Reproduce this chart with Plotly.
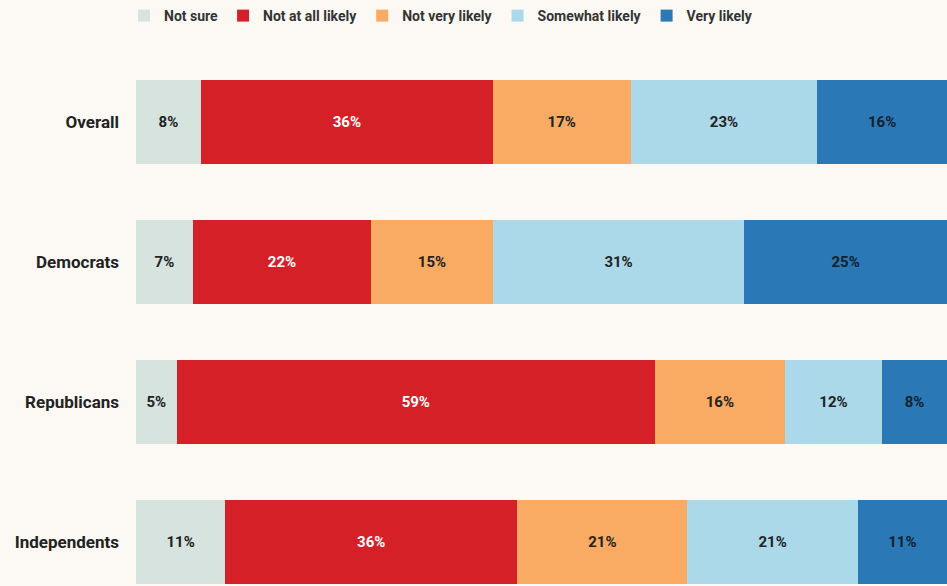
import plotly.graph_objects as go

groups = ["Overall", "Democrats", "Republicans", "Independents"]
series_names = ["Not sure", "Not at all likely", "Not very likely", "Somewhat likely", "Very likely"]
not_sure = [8, 7, 5, 11]
not_at_all = [36, 22, 59, 36]
not_very = [17, 15, 16, 21]
somewhat = [23, 31, 12, 21]
very = [16, 25, 8, 11]

values = [not_sure, not_at_all, not_very, somewhat, very]
colors = ["#d6e3de", "#d62027", "#f9ab63", "#abd9ea", "#2a78b6"]
text_colors = ["#222222", "#ffffff", "#222222", "#222222", "#14202e"]
BG = "#fcf9f4"

fig = go.Figure()
for name, vals, col, tc in zip(series_names, values, colors, text_colors):
    fig.add_trace(go.Bar(
        y=groups, x=vals, name=name, orientation="h",
        marker=dict(color=col, line=dict(width=0)),
        text=[f"{v}%" for v in vals],
        textposition="inside", insidetextanchor="middle",
        textfont=dict(color=tc, size=15, family="Roboto", weight="bold"),
        constraintext="none",
        width=0.6,
    ))

fig.update_layout(
    barmode="stack",
    width=947, height=586,
    margin=dict(l=136, r=0, t=52, b=0),
    paper_bgcolor=BG,
    plot_bgcolor=BG,
    font=dict(family="Roboto", color="#222222"),
    showlegend=True,
    legend=dict(orientation="h", xref="container", x=0.131, xanchor="left",
                yref="container", y=1.0, yanchor="top",
                font=dict(size=14, weight="bold", color="#333333"),
                traceorder="normal", itemwidth=30, bgcolor="rgba(0,0,0,0)"),
)
fig.update_xaxes(range=[0, 100], showgrid=False, zeroline=False, showticklabels=False, fixedrange=True)
fig.update_yaxes(range=[3.314, -0.5], showgrid=False, zeroline=False, ticks="",
                 ticklabelstandoff=16,
                 tickfont=dict(size=17, weight="bold", color="#222222"))

fig.write_html("out.html", config={"displayModeBar": False}, post_script=(
    "document.body.style.margin='0';document.body.style.background='" + BG + "';"
    "document.documentElement.style.overflow='hidden';"
))
